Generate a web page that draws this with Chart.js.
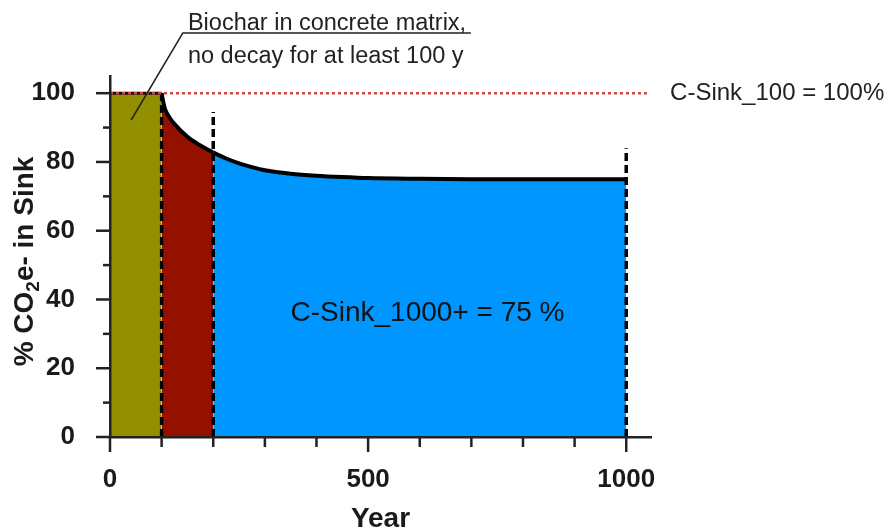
<!DOCTYPE html>
<html><head><meta charset="utf-8">
<script src="https://cdn.jsdelivr.net/npm/chart.js@4"></script>
<style>html,body{margin:0;padding:0;background:#fff;}#wrap{width:885px;height:531px;position:relative;}</style>
</head><body><div id="wrap"><canvas id="c"></canvas></div>
<script>
// ---- data ----
const decayYears   = [100,103,107,115,125,150,175,200,225,250,275,300,350,400,450,500,600,700,800,900,1000];
const sinkPercent  = [100,97.5,95.2,93,91,87.3,84.8,82.7,81,79.6,78.5,77.6,76.6,76,75.6,75.3,75.1,75,75,75,75];
const concreteYears = [0, 100];
const concreteValues = [100, 100];
const phaseBoundYears = [100, 200, 1000];
const phaseBoundTops  = [100, 94.5, 84];
const sink100Line = {from: 0, to: 1040, value: 100};
const xMajorTicks = [0, 500, 1000];
const xMinorTicks = [100, 200, 300, 400, 600, 700, 800, 900];
const yMajorTicks = [0, 20, 40, 60, 80, 100];
const yMinorTicks = [10, 30, 50, 70, 90];
const xTitle = 'Year';
const yTitleParts = ['% CO', '2', 'e- in Sink'];
const noteLines = ['Biochar in concrete matrix,', 'no decay for at least 100 y'];
const sink100Label = 'C-Sink_100 = 100%';
const sink1000Label = 'C-Sink_1000+ = 75 %';

const FONT = '"Liberation Sans", Arial, Helvetica, sans-serif';
const OLIVE = '#929000', CAYENNE = '#941100', AQUA = '#0096FF';

const pts = (xs, ys) => xs.map((x, i) => ({x, y: ys[i]}));
const allPts = pts(decayYears, sinkPercent);
const redPts = allPts.filter(p => p.x <= 200);
const bluePts = allPts.filter(p => p.x >= 200);

const datasets = [
  {data: [{x: sink100Line.from, y: sink100Line.value}, {x: sink100Line.to, y: sink100Line.value}],
   borderColor: '#cf4644', borderWidth: 2.5, borderDash: [3, 3], fill: false, order: 1},
  ...phaseBoundYears.map((yr, i) => ({data: [{x: yr, y: 0}, {x: yr, y: phaseBoundTops[i]}],
   borderColor: '#000', borderWidth: 3.5, borderDash: [8, 4], fill: false, order: 2})),
  {data: pts(concreteYears, concreteValues), backgroundColor: OLIVE, borderColor: '#111', borderWidth: 3, fill: 'origin', order: 4},
  {data: redPts, backgroundColor: CAYENNE, borderColor: '#000', borderWidth: 4, fill: 'origin', cubicInterpolationMode: 'monotone', order: 3},
  {data: bluePts, backgroundColor: AQUA, borderColor: '#000', borderWidth: 4, fill: 'origin', cubicInterpolationMode: 'monotone', order: 3},
];
datasets.forEach(d => { d.showLine = true; d.pointRadius = 0; d.pointHoverRadius = 0; });

const decorPlugin = {
  id: 'decor',
  afterDraw(chart) {
    const {ctx} = chart;
    const xs = chart.scales.x, ys = chart.scales.y;
    const left = xs.left, bottom = ys.bottom;
    ctx.save();
    ctx.strokeStyle = '#222'; ctx.lineWidth = 2.5; ctx.lineCap = 'butt';
    const tick = (x1, y1, x2, y2) => { ctx.beginPath(); ctx.moveTo(x1, y1); ctx.lineTo(x2, y2); ctx.stroke(); };
    yMajorTicks.forEach(v => { const y = ys.getPixelForValue(v); tick(left - 14, y, left, y); });
    yMinorTicks.forEach(v => { const y = ys.getPixelForValue(v); tick(left - 7, y, left, y); });
    xMajorTicks.forEach(v => { const x = xs.getPixelForValue(v); tick(x, bottom, x, bottom + 15); });
    xMinorTicks.forEach(v => { const x = xs.getPixelForValue(v); tick(x, bottom, x, bottom + 10); });

    // y axis title with subscript
    ctx.fillStyle = '#1a1a1a';
    const big = 'bold 28px ' + FONT, small = 'bold 19px ' + FONT;
    ctx.font = big; const w1 = ctx.measureText(yTitleParts[0]).width, w3 = ctx.measureText(yTitleParts[2]).width;
    ctx.font = small; const w2 = ctx.measureText(yTitleParts[1]).width;
    const total = w1 + w2 + w3;
    ctx.save();
    ctx.translate(33, (ys.top + bottom + 10) / 2);
    ctx.rotate(-Math.PI / 2);
    ctx.textBaseline = 'alphabetic'; ctx.textAlign = 'left';
    let sx = -total / 2;
    ctx.font = big; ctx.fillText(yTitleParts[0], sx, 0); sx += w1;
    ctx.font = small; ctx.fillText(yTitleParts[1], sx, 6); sx += w2;
    ctx.font = big; ctx.fillText(yTitleParts[2], sx, 0);
    ctx.restore();

    // annotation top
    ctx.fillStyle = '#222';
    ctx.font = '23.5px ' + FONT; ctx.textAlign = 'left'; ctx.textBaseline = 'alphabetic';
    const nx = xs.getPixelForValue(151);
    ctx.fillText(noteLines[0], nx, ys.getPixelForValue(118.3));
    ctx.fillText(noteLines[1], nx, ys.getPixelForValue(108.7));
    ctx.strokeStyle = '#222'; ctx.lineWidth = 1.5;
    ctx.beginPath();
    ctx.moveTo(xs.getPixelForValue(699), ys.getPixelForValue(117.5));
    ctx.lineTo(xs.getPixelForValue(141), ys.getPixelForValue(117.5));
    ctx.lineTo(xs.getPixelForValue(41), ys.getPixelForValue(92.2));
    ctx.stroke();

    // right label
    ctx.font = '24px ' + FONT; ctx.textBaseline = 'middle';
    ctx.fillText(sink100Label, xs.getPixelForValue(1085), ys.getPixelForValue(100));
    // center label
    ctx.font = '28px ' + FONT; ctx.textAlign = 'center';
    ctx.fillStyle = '#111';
    ctx.fillText(sink1000Label, xs.getPixelForValue(615), ys.getPixelForValue(36));
    ctx.restore();
  }
};

new Chart(document.getElementById('c'), {
  type: 'scatter',
  data: {datasets},
  options: {
    responsive: true, maintainAspectRatio: false, animation: false,
    layout: {padding: {left: 0, right: 234, top: 76, bottom: 0}},
    plugins: {legend: {display: false}, tooltip: {enabled: false}},
    scales: {
      x: {type: 'linear', min: 0, max: 1048, position: 'bottom',
          afterFit: s => { s.height = 94; },
          afterBuildTicks: s => { s.ticks = xMajorTicks.map(v => ({value: v})); },
          grid: {display: false, drawTicks: false},
          border: {display: true, color: '#222', width: 2.5, z: 1},
          ticks: {padding: 27, color: '#1a1a1a', font: {family: FONT, size: 26, weight: 'bold'}, maxRotation: 0,
                  callback: v => String(v)},
          title: {display: true, text: xTitle, color: '#1a1a1a', font: {family: FONT, size: 28, weight: 'bold'}, padding: {top: 0, bottom: -5}}},
      y: {type: 'linear', min: 0, max: 105,
          afterFit: s => { s.width = 110; },
          afterBuildTicks: s => { s.ticks = yMajorTicks.map(v => ({value: v})); },
          grid: {display: false, drawTicks: false},
          border: {display: true, color: '#222', width: 2.5, z: 1},
          ticks: {padding: 35, color: '#1a1a1a', font: {family: FONT, size: 26, weight: 'bold'}, callback: v => String(v)}}
    }
  },
  plugins: [decorPlugin]
});
</script></body></html>
